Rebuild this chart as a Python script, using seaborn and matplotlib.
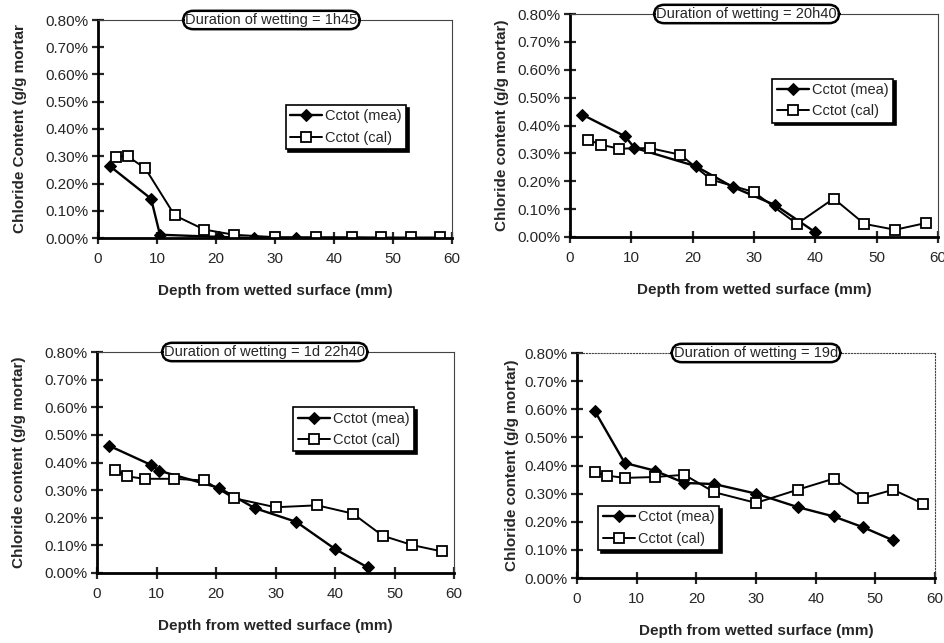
import matplotlib
matplotlib.use('Agg')
import matplotlib.pyplot as plt
from matplotlib.ticker import PercentFormatter, MultipleLocator
import seaborn as sns
import pandas as pd

sns.set_style('white')
plt.rcParams['font.family'] = ['Liberation Sans', 'DejaVu Sans']

# chloride content in % (g/g mortar), depth in mm
# 1h45
depth_mea_1 = [2, 9, 10.5, 20.5, 26.5, 33.5]
cl_mea_1 = [0.264, 0.144, 0.012, 0.004, 0.0, 0.0]
depth_cal_1 = [3, 5, 8, 13, 18, 23, 30, 37, 43, 48, 53, 58]
cl_cal_1 = [0.299, 0.300, 0.256, 0.083, 0.031, 0.012, 0.003, 0.003, 0.003, 0.002, 0.002, 0.002]

# 20h40
depth_mea_2 = [2, 9, 10.5, 20.5, 26.5, 33.5, 40]
cl_mea_2 = [0.439, 0.361, 0.320, 0.254, 0.180, 0.114, 0.017]
depth_cal_2 = [3, 5, 8, 13, 18, 23, 30, 37, 43, 48, 53, 58]
cl_cal_2 = [0.349, 0.331, 0.317, 0.319, 0.295, 0.206, 0.161, 0.047, 0.138, 0.047, 0.026, 0.050]

# 1d 22h40
depth_mea_3 = [2, 9, 10.5, 20.5, 26.5, 33.5, 40, 45.5]
cl_mea_3 = [0.461, 0.392, 0.370, 0.308, 0.235, 0.185, 0.087, 0.020]
depth_cal_3 = [3, 5, 8, 13, 18, 23, 30, 37, 43, 48, 53, 58]
cl_cal_3 = [0.374, 0.350, 0.341, 0.341, 0.335, 0.271, 0.238, 0.245, 0.215, 0.135, 0.101, 0.078]

# 19d
depth_mea_4 = [3, 8, 13, 18, 23, 30, 37, 43, 48, 53]
cl_mea_4 = [0.593, 0.409, 0.382, 0.338, 0.334, 0.300, 0.252, 0.219, 0.180, 0.134]
depth_cal_4 = [3, 5, 8, 13, 18, 23, 30, 37, 43, 48, 53, 58]
cl_cal_4 = [0.376, 0.364, 0.356, 0.359, 0.367, 0.305, 0.267, 0.314, 0.353, 0.284, 0.314, 0.264]

titles = ['Duration of wetting = 1h45', 'Duration of wetting = 20h40',
          'Duration of wetting = 1d 22h40', 'Duration of wetting = 19d']
ylabels = ['Chloride Content (g/g mortar', 'Chloride content (g/g mortar)',
           'Chloride content (g/g mortar)', 'Chloride content (g/g mortar)']
xlabel = 'Depth from wetted surface (mm)'

data = [(depth_mea_1, cl_mea_1, depth_cal_1, cl_cal_1),
        (depth_mea_2, cl_mea_2, depth_cal_2, cl_cal_2),
        (depth_mea_3, cl_mea_3, depth_cal_3, cl_cal_3),
        (depth_mea_4, cl_mea_4, depth_cal_4, cl_cal_4)]

# pixel boxes: left, right, top, bottom
boxes = [(98, 452, 20, 238), (570, 938, 14, 237), (97, 454, 352, 573), (577, 935, 353, 578)]
title_x = [0.49, 0.48, 0.47, 0.50]
legend_loc = [(0.53, 0.61), (0.55, 0.71), (0.55, 0.75), (0.06, 0.32)]
ylabel_pad = [13, 6, 13, 4]

W, H = 944, 643
fig = plt.figure(figsize=(W / 100, H / 100), dpi=100)

for i in range(4):
    l, r, t, b = boxes[i]
    ax = fig.add_axes([l / W, 1 - b / H, (r - l) / W, (b - t) / H])
    dm, cm, dc, cc = data[i]
    sns.lineplot(x=dm, y=cm, ax=ax, color='black', lw=1.7, marker='D', markersize=6.5,
                 markerfacecolor='black', markeredgecolor='black', label='Cctot (mea)')
    sns.lineplot(x=dc, y=cc, ax=ax, color='black', lw=1.4, marker='s', markersize=7.5,
                 markerfacecolor='white', markeredgecolor='black', markeredgewidth=1.3,
                 label='Cctot (cal)')
    ax.set_xlim(0, 60)
    ax.set_ylim(0, 0.8)
    ax.xaxis.set_major_locator(MultipleLocator(10))
    ax.yaxis.set_major_locator(MultipleLocator(0.1))
    ax.yaxis.set_major_formatter(PercentFormatter(xmax=100, decimals=2))
    ax.tick_params(axis='both', direction='inout', length=8, width=1.6, labelsize=11,
                   bottom=True, left=True, top=False, right=False, pad=3)
    ax.tick_params(axis='x', pad=6)
    for s in ['left', 'bottom']:
        ax.spines[s].set_linewidth(2)
        ax.spines[s].set_color('black')
    for s in ['top', 'right']:
        ax.spines[s].set_linewidth(0.8)
        ax.spines[s].set_color('#444444')
        if i == 3:
            ax.spines[s].set_linestyle(':')
    ax.set_xlabel(xlabel, fontsize=11, fontweight='bold', labelpad=13)
    ax.set_ylabel(ylabels[i], fontsize=11, fontweight='bold', labelpad=ylabel_pad[i])
    ax.text(title_x[i], 1.0, titles[i], transform=ax.transAxes, ha='center', va='center',
            fontsize=10.5, zorder=5,
            bbox=dict(boxstyle='round,pad=0.15,rounding_size=0.7', fc='white', ec='black', lw=1.8))
    ax.legend(loc='upper left', bbox_to_anchor=legend_loc[i], fontsize=10.5, frameon=True,
              fancybox=False, edgecolor='black', framealpha=1, borderpad=0.3,
              handlelength=2.2, handletextpad=0.2, labelspacing=0.5, borderaxespad=0,
              shadow={'color': 'black', 'alpha': 1})
    ax.get_legend().get_frame().set_linewidth(1.2)

fig.savefig('out.png', dpi=100)
